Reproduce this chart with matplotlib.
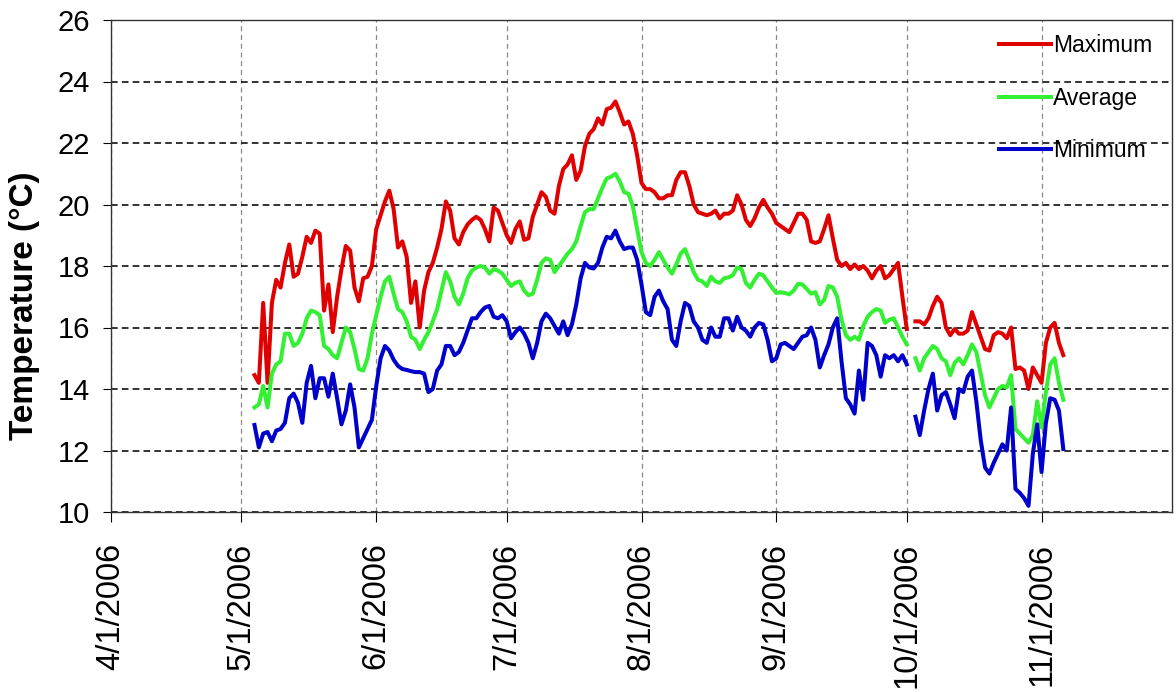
import matplotlib
matplotlib.use('Agg')
import matplotlib.pyplot as plt
import matplotlib.dates as mdates
import numpy as np
import pandas as pd

plt.rcParams['font.family'] = ['Liberation Sans', 'DejaVu Sans']

# daily values, 2006-05-04 .. 2006-11-06 (Oct 2 missing)
max_may = [14.45, 14.2, 16.8, 14.2, 16.8, 17.55, 17.3, 18.1, 18.7, 17.65, 17.75, 18.3, 18.95, 18.75,
           19.15, 19.05, 16.55, 17.4, 15.85, 17.0, 17.9, 18.65, 18.5, 17.3, 16.85, 17.6, 17.65, 18.0]
max_jun = [19.2, 19.65, 20.1, 20.45, 19.85, 18.6, 18.8, 18.3, 16.8, 17.5, 16.0, 17.2, 17.8, 18.1, 18.6,
           19.2, 20.1, 19.8, 18.9, 18.7, 19.1, 19.35, 19.5, 19.6, 19.5, 19.2, 18.8, 19.9, 19.8, 19.4]
max_jul = [19.0, 18.75, 19.2, 19.45, 18.85, 18.9, 19.6, 20.0, 20.4, 20.25, 19.8, 19.7, 20.6, 21.15, 21.3,
           21.6, 20.8, 21.1, 21.9, 22.3, 22.45, 22.8, 22.6, 23.1, 23.15, 23.35, 23.0, 22.6, 22.7, 22.3, 21.6]
max_aug = [20.7, 20.5, 20.5, 20.4, 20.2, 20.2, 20.3, 20.3, 20.8, 21.05, 21.05, 20.6, 20.0, 19.75, 19.7,
           19.65, 19.7, 19.8, 19.55, 19.7, 19.7, 19.8, 20.3, 20.0, 19.5, 19.3, 19.55, 19.9, 20.15, 19.9, 19.7]
max_sep = [19.4, 19.3, 19.2, 19.1, 19.4, 19.7, 19.7, 19.5, 18.8, 18.75, 18.8, 19.2, 19.65, 18.9, 18.2,
           18.0, 18.1, 17.9, 18.05, 17.9, 18.0, 17.85, 17.6, 17.85, 18.0, 17.6, 17.7, 17.9, 18.1, 17.0]
max_oct = [15.95, np.nan, 16.2, 16.2, 16.1, 16.3, 16.7, 17.0, 16.8, 16.0, 15.75, 15.95, 15.8, 15.8, 15.9,
           16.5, 16.1, 15.7, 15.3, 15.25, 15.75, 15.85, 15.8, 15.65, 16.0, 14.65, 14.7, 14.6, 14.0, 14.7, 14.45]
max_nov = [14.2, 15.5, 16.0, 16.15, 15.5, 15.1]

avg_may = [13.4, 13.5, 14.1, 13.4, 14.5, 14.8, 14.9, 15.8, 15.8, 15.4, 15.5, 15.8, 16.3, 16.55,
           16.5, 16.4, 15.4, 15.3, 15.1, 15.0, 15.5, 16.0, 15.85, 15.3, 14.65, 14.6, 15.0, 15.8]
avg_jun = [16.4, 17.0, 17.5, 17.65, 17.1, 16.6, 16.5, 16.2, 15.7, 15.6, 15.3, 15.6, 15.85, 16.2, 16.6,
           17.2, 17.8, 17.5, 17.0, 16.75, 17.1, 17.6, 17.85, 17.95, 18.0, 17.95, 17.75, 17.9, 17.85, 17.75]
avg_jul = [17.55, 17.35, 17.45, 17.5, 17.2, 17.05, 17.1, 17.55, 18.1, 18.25, 18.2, 17.8, 18.0, 18.2, 18.4,
           18.55, 18.8, 19.3, 19.75, 19.85, 19.85, 20.2, 20.55, 20.85, 20.9, 21.0, 20.75, 20.4, 20.35, 19.95, 19.2]
avg_aug = [18.45, 18.1, 18.0, 18.2, 18.45, 18.2, 17.95, 17.75, 18.05, 18.4, 18.55, 18.2, 17.8, 17.55, 17.5,
           17.35, 17.65, 17.5, 17.45, 17.6, 17.63, 17.7, 17.95, 17.9, 17.45, 17.3, 17.55, 17.75, 17.7, 17.5, 17.3]
avg_sep = [17.12, 17.15, 17.12, 17.08, 17.2, 17.42, 17.4, 17.25, 17.1, 17.15, 16.75, 16.9, 17.35, 17.3, 17.0,
           16.25, 15.75, 15.6, 15.7, 15.6, 16.05, 16.35, 16.5, 16.6, 16.55, 16.15, 16.25, 16.3, 16.0, 15.7]
avg_oct = [15.45, np.nan, 15.0, 14.6, 15.0, 15.2, 15.4, 15.3, 15.0, 14.9, 14.45, 14.85, 15.0, 14.8, 15.1,
           15.45, 15.2, 14.5, 13.8, 13.4, 13.7, 14.0, 14.1, 14.05, 14.45, 12.7, 12.55, 12.4, 12.25, 12.5, 13.6]
avg_nov = [12.75, 13.9, 14.8, 15.0, 14.2, 13.65]

min_may = [12.83, 12.1, 12.55, 12.6, 12.3, 12.65, 12.7, 12.9, 13.7, 13.85, 13.55, 12.9, 14.2, 14.75,
           13.7, 14.35, 14.35, 13.75, 14.5, 13.7, 12.85, 13.3, 14.15, 13.4, 12.1, 12.4, 12.7, 13.0]
min_jun = [14.1, 15.0, 15.4, 15.25, 14.95, 14.75, 14.65, 14.62, 14.58, 14.55, 14.55, 14.5, 13.9, 14.0, 14.6,
           14.8, 15.4, 15.4, 15.1, 15.2, 15.5, 15.9, 16.3, 16.3, 16.5, 16.65, 16.7, 16.35, 16.3, 16.4]
min_jul = [16.2, 15.65, 15.85, 16.0, 15.8, 15.5, 15.0, 15.5, 16.2, 16.45, 16.3, 16.05, 15.8, 16.2, 15.75,
           16.1, 16.75, 17.6, 18.1, 17.95, 17.92, 18.1, 18.6, 18.95, 18.9, 19.15, 18.8, 18.55, 18.6, 18.6, 18.2]
min_aug = [17.4, 16.5, 16.4, 17.0, 17.2, 16.85, 16.6, 15.6, 15.4, 16.2, 16.8, 16.7, 16.2, 16.0, 15.6,
           15.5, 16.0, 15.7, 15.7, 16.3, 16.3, 15.9, 16.35, 16.0, 15.9, 15.7, 16.0, 16.15, 16.1, 15.6, 14.9]
min_sep = [15.0, 15.45, 15.5, 15.4, 15.3, 15.5, 15.7, 15.75, 16.0, 15.6, 14.7, 15.1, 15.45, 16.0, 16.3,
           14.9, 13.7, 13.5, 13.2, 14.6, 13.65, 15.5, 15.4, 15.1, 14.4, 15.1, 15.0, 15.1, 14.9, 15.1]
min_oct = [14.8, np.nan, 13.1, 12.5, 13.3, 14.0, 14.5, 13.3, 13.8, 13.9, 13.5, 13.05, 14.0, 13.9, 14.4,
           14.6, 13.6, 12.35, 11.45, 11.25, 11.6, 11.9, 12.2, 12.0, 13.4, 10.75, 10.62, 10.45, 10.2, 11.9, 12.85]
min_nov = [11.3, 12.9, 13.7, 13.65, 13.3, 12.05]

days = pd.date_range("2006-05-04", "2006-11-06", freq="D")
t_max = np.concatenate([max_may, max_jun, max_jul, max_aug, max_sep, max_oct, max_nov])
t_avg = np.concatenate([avg_may, avg_jun, avg_jul, avg_aug, avg_sep, avg_oct, avg_nov])
t_min = np.concatenate([min_may, min_jun, min_jul, min_aug, min_sep, min_oct, min_nov])

fig = plt.figure(figsize=(11.76, 6.92), dpi=100)
ax = fig.add_axes([111/1176, 1 - 512/692, (1172 - 111)/1176, (512 - 20)/692])

kw = dict(lw=2.9, solid_joinstyle="round")
ax.plot(days, t_max, color="#e00000", label="Maximum", **kw)
ax.plot(days, t_avg, color="#33f033", label="Average", **kw)
ax.plot(days, t_min, color="#0000cc", label="Minimum", **kw)

ax.set_ylim(10, 26)
ax.set_yticks(np.arange(10, 27, 2))
ax.set_xlim(pd.Timestamp("2006-04-01"), pd.Timestamp("2006-12-01"))
ax.set_xticks(pd.date_range("2006-04-01", "2006-11-01", freq="MS"))
ax.xaxis.set_major_formatter(mdates.DateFormatter("%-m/%-d/%Y"))
ax.tick_params(axis="x", labelrotation=90, labelsize=23.5, direction="out", length=7, pad=15)
ax.tick_params(axis="y", labelsize=21, direction="out", length=6, pad=9)

ax.yaxis.grid(True, color="#111", ls=(0, (4, 2.5)), lw=1.2)
ax.xaxis.grid(True, color="#888", ls=(0, (4, 3)), lw=0.9)
for s in ax.spines.values():
    s.set_linewidth(1.0)
    s.set_color("#333")

ax.set_ylabel("Temperature (°C)", fontsize=24, fontweight="bold")
ax.yaxis.set_label_coords(-0.067, 0.42)

ax.legend(loc="upper right", frameon=False, fontsize=16.5, handlelength=2.3, handletextpad=0.05,
          labelspacing=1.3, borderaxespad=0.2, bbox_to_anchor=(0.994, 1.0))

fig.savefig("out.png", dpi=100)
